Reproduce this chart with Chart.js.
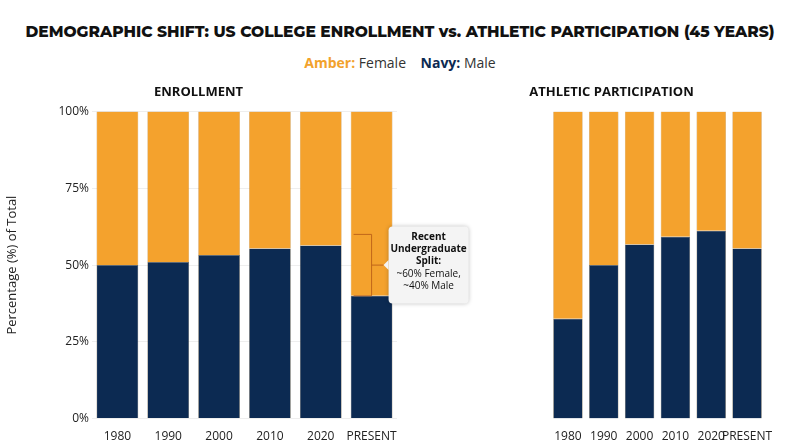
<!DOCTYPE html><html><head><meta charset="utf-8">
<script src="https://cdn.jsdelivr.net/npm/chart.js@4"></script>
<style>
body{margin:0;width:800px;height:447px;background:#fff;font-family:"Open Sans",sans-serif;overflow:hidden;position:relative}
#t{position:absolute;top:22px;left:0;width:800px;text-align:center;font-family:Montserrat,"Open Sans";font-weight:800;font-size:15.5px;color:#111;white-space:nowrap}
#lg{position:absolute;top:53px;left:0;width:800px;text-align:center;font-size:14px;color:#333}
#c1{position:absolute;left:0;top:80px}
#c2{position:absolute;left:400px;top:80px}
</style></head><body>
<div id="t">DEMOGRAPHIC SHIFT: US COLLEGE ENROLLMENT vs. ATHLETIC PARTICIPATION (45 YEARS)</div>
<div id="lg"><b style="color:#f2a22c">Amber:</b> Female &nbsp;&nbsp; <b style="color:#0c2a52">Navy:</b> Male</div>
<canvas id="c1" width="800" height="367"></canvas>
<canvas id="c2" width="400" height="367"></canvas>
<script>
const categories=["1980","1990","2000","2010","2020","PRESENT"];
const enrollMale=[50,51,53.3,55.4,56.4,40];
const enrollFemale=[50,49,46.7,44.6,43.6,60];
const athMale=[32.5,50,56.7,59.2,61.2,55.4];
const athFemale=[67.5,50,43.3,40.8,38.8,44.6];
const yTicks=["0%","25%","50%","75%","100%"];
const NAVY="#0c2a52",AMBER="#f4a22d";
const callout={id:'callout',afterDatasetsDraw(ch){
 const x=ch.scales.x,y=ch.scales.y,c=ch.ctx;
 const cx=x.getPixelForValue(5),y1=y.getPixelForValue(60),y0=y.getPixelForValue(40);
 const l=cx-18,r=cx;
 c.save();c.strokeStyle="#c0661a";c.lineWidth=1;
 c.beginPath();c.moveTo(l,y1);c.lineTo(r,y1);c.lineTo(r,y0);c.lineTo(l,y0);c.moveTo(r,(y0+y1)/2);c.lineTo(r+12,(y0+y1)/2);c.stroke();
 const bx=r+17,by=y1-8,bw=80,bh=77;
 c.shadowColor="rgba(0,0,0,0.25)";c.shadowBlur=4;c.fillStyle="#f4f4f4";
 c.beginPath();c.roundRect(bx,by,bw,bh,4);c.fill();c.shadowBlur=0;
 c.beginPath();c.moveTo(bx,(y0+y1)/2-5);c.lineTo(bx-5,(y0+y1)/2);c.lineTo(bx,(y0+y1)/2+5);c.fill();
 c.fillStyle="#111";c.textAlign="center";c.font="bold 10px 'Open Sans'";
 ["Recent","Undergraduate","Split:"].forEach((s,i)=>c.fillText(s,bx+bw/2,by+14+i*12));
 c.font="10px 'Open Sans'";["~60% Female,","~40% Male"].forEach((s,i)=>c.fillText(s,bx+bw/2,by+51+i*12));
 c.restore();}};
function mk(id,m,f,title,left,plugins){
 return new Chart(document.getElementById(id),{type:'bar',data:{labels:categories,datasets:[
  {label:'Male',data:m,backgroundColor:NAVY,borderColor:"#6b5a3a",borderWidth:0.5},
  {label:'Female',data:f,backgroundColor:AMBER,borderColor:"#b77a25",borderWidth:0.5}]},
 options:{responsive:false,animation:false,
  layout:{padding:{left:left?0:58,right:left?403:35,top:0,bottom:0}},
  plugins:{legend:{display:false},tooltip:{enabled:false},title:{display:true,text:title,color:"#111",font:{family:"Open Sans",size:13,weight:'bold'},padding:{top:4,bottom:12}}},
  datasets:{bar:{categoryPercentage:1,barPercentage:0.82}},
  scales:{x:{stacked:true,grid:{display:false},border:{display:false},ticks:{autoSkip:false,maxRotation:0,minRotation:0,color:"#222",font:{family:"Open Sans",size:12}}},
   y:{stacked:true,min:0,max:100,display:left,afterFit(s){s.width=92},
    title:{display:true,text:"Percentage (%) of Total",color:"#222",font:{family:"Open Sans",size:13}},
    ticks:{stepSize:25,color:"#222",font:{family:"Open Sans",size:12},callback:(v,i)=>yTicks[i]},
    grid:{color:"#eeeeee",drawTicks:false},border:{display:false}}}},
 plugins:plugins});
}
mk('c1',enrollMale,enrollFemale,"ENROLLMENT",true,[callout]);
mk('c2',athMale,athFemale,"ATHLETIC PARTICIPATION",false,[]);
</script></body></html>
